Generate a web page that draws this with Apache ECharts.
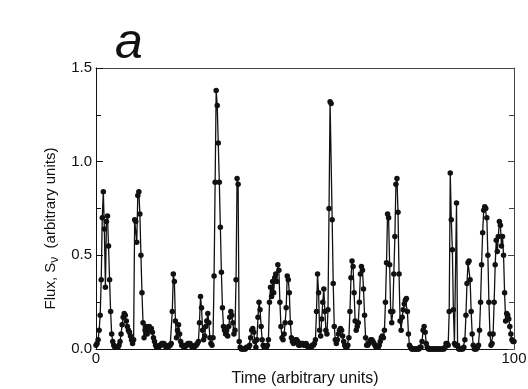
<!DOCTYPE html>
<html>
<head>
<meta charset="utf-8">
<script src="https://cdn.jsdelivr.net/npm/echarts@6/dist/echarts.min.js"></script>
<style>
  html, body { margin: 0; background: #fff; }
  #chart { width: 528px; height: 389px; }
</style>
</head>
<body>
<div id="chart"></div>
<script>
  // sampling step of the light curve, in time units
  const dt = 0.25

  // flux, one value every dt from t = 0 to t = 100
  const flux = [
    0.02, 0.03, 0.05, 0.10, 0.18, 0.37, 0.70, 0.84, 0.64, 0.33, 0.68, 0.71, 0.55, 0.37, 0.20, 0.08, 0.04, 0.02, 0.01, 0.01,
    0.01, 0.01, 0.02, 0.04, 0.08, 0.13, 0.17, 0.19, 0.18, 0.15, 0.12, 0.10, 0.09, 0.07, 0.05, 0.03, 0.05, 0.69, 0.68, 0.57,
    0.82, 0.84, 0.72, 0.50, 0.30, 0.14, 0.06, 0.10, 0.12, 0.08, 0.11, 0.12, 0.10, 0.11, 0.09, 0.06, 0.04, 0.02, 0.01, 0.01,
    0.01, 0.02, 0.02, 0.03, 0.03, 0.03, 0.02, 0.01, 0.01, 0.01, 0.02, 0.02, 0.03, 0.20, 0.40, 0.36, 0.15, 0.06, 0.10, 0.13,
    0.08, 0.04, 0.02, 0.02, 0.01, 0.01, 0.02, 0.02, 0.03, 0.03, 0.03, 0.02, 0.01, 0.01, 0.01, 0.02, 0.02, 0.03, 0.04, 0.14,
    0.28, 0.22, 0.10, 0.05, 0.07, 0.12, 0.15, 0.19, 0.14, 0.06, 0.03, 0.02, 0.06, 0.39, 0.89, 1.38, 1.30, 1.10, 0.89, 0.65,
    0.41, 0.22, 0.12, 0.10, 0.08, 0.10, 0.07, 0.12, 0.17, 0.20, 0.18, 0.14, 0.08, 0.10, 0.37, 0.91, 0.88, 0.04, 0.01, 0.00,
    0.00, 0.00, 0.00, 0.00, 0.01, 0.01, 0.01, 0.02, 0.06, 0.10, 0.11, 0.09, 0.04, 0.01, 0.05, 0.17, 0.25, 0.21, 0.12, 0.05,
    0.02, 0.01, 0.01, 0.01, 0.02, 0.05, 0.25, 0.33, 0.28, 0.36, 0.30, 0.38, 0.40, 0.36, 0.45, 0.42, 0.25, 0.12, 0.06, 0.05,
    0.08, 0.14, 0.22, 0.39, 0.37, 0.30, 0.14, 0.06, 0.04, 0.03, 0.04, 0.05, 0.05, 0.04, 0.02, 0.02, 0.03, 0.03, 0.03, 0.02,
    0.02, 0.03, 0.02, 0.01, 0.01, 0.01, 0.01, 0.02, 0.02, 0.03, 0.05, 0.20, 0.40, 0.30, 0.10, 0.07, 0.16, 0.25, 0.32, 0.20,
    0.10, 0.08, 0.21, 0.75, 1.32, 1.31, 0.69, 0.35, 0.12, 0.05, 0.03, 0.05, 0.08, 0.10, 0.11, 0.10, 0.07, 0.04, 0.02, 0.01,
    0.01, 0.02, 0.06, 0.20, 0.38, 0.47, 0.44, 0.30, 0.15, 0.10, 0.12, 0.14, 0.25, 0.40, 0.44, 0.42, 0.32, 0.18, 0.06, 0.02,
    0.02, 0.03, 0.04, 0.05, 0.05, 0.04, 0.03, 0.02, 0.01, 0.01, 0.01, 0.02, 0.04, 0.06, 0.07, 0.06, 0.10, 0.25, 0.46, 0.72,
    0.70, 0.45, 0.20, 0.14, 0.20, 0.40, 0.60, 0.88, 0.91, 0.73, 0.40, 0.15, 0.10, 0.17, 0.21, 0.24, 0.26, 0.27, 0.20, 0.08,
    0.02, 0.01, 0.00, 0.00, 0.00, 0.00, 0.00, 0.00, 0.00, 0.00, 0.01, 0.01, 0.04, 0.10, 0.12, 0.09, 0.03, 0.01, 0.00, 0.00,
    0.00, 0.00, 0.00, 0.00, 0.00, 0.00, 0.00, 0.00, 0.00, 0.00, 0.00, 0.00, 0.00, 0.00, 0.01, 0.03, 0.03, 0.02, 0.20, 0.94,
    0.69, 0.53, 0.21, 0.03, 0.02, 0.78, 0.02, 0.00, 0.00, 0.00, 0.00, 0.00, 0.01, 0.05, 0.18, 0.35, 0.46, 0.47, 0.37, 0.20,
    0.08, 0.02, 0.00, 0.00, 0.00, 0.01, 0.02, 0.10, 0.25, 0.45, 0.62, 0.74, 0.76, 0.75, 0.70, 0.50, 0.25, 0.08, 0.02, 0.03,
    0.08, 0.25, 0.45, 0.58, 0.52, 0.60, 0.68, 0.66, 0.55, 0.60, 0.50, 0.30, 0.15, 0.19, 0.18, 0.16, 0.12, 0.08, 0.05, 0.04,
    0.04
  ]

  const yTicks = [0, 0.5, 1.0, 1.5]
  const xTickLabels = [0, 100]

  const font = '"Liberation Sans", Arial, sans-serif'
  const ink = '#111'

  const chart = echarts.init(document.getElementById('chart'))

  const points = flux.map((v, i) => [i * dt, v])

  chart.setOption({
    animation: false,
    title: {
      text: 'a',
      left: 110,
      top: 14,
      textStyle: { fontFamily: font, fontStyle: 'italic', fontWeight: 'normal', fontSize: 50, color: ink },
    },
    grid: { left: 96, right: 14, top: 68, bottom: 40, outerBoundsMode: 'none' },
    xAxis: [
      {
        type: 'value',
        min: 0,
        max: 100,
        interval: 10,
        name: 'Time (arbitrary units)',
        nameLocation: 'middle',
        nameGap: 18,
        nameTextStyle: { fontFamily: font, fontSize: 16, color: ink },
        axisLine: { onZero: false, lineStyle: { color: ink, width: 1 } },
        axisTick: { show: false },
        splitLine: { show: false },
        axisLabel: {
          fontFamily: font,
          fontSize: 15,
          color: ink,
          margin: 2,
          formatter: (v) => (xTickLabels.includes(v) ? String(v) : ''),
        },
      },
      {
        type: 'value',
        position: 'top',
        min: 0,
        max: 100,
        axisLine: { show: true, onZero: false, lineStyle: { color: '#444', width: 1 } },
        axisTick: { show: false },
        axisLabel: { show: false },
        splitLine: { show: false },
      },
    ],
    yAxis: [
      {
        type: 'value',
        min: 0,
        max: 1.5,
        interval: 0.5,
        name: 'Flux, S{sub|ν}  (arbitrary units)',
        nameLocation: 'middle',
        nameGap: 34,
        nameTextStyle: {
          fontFamily: font,
          fontSize: 15,
          color: ink,
          padding: [0, 40, 0, 0],
          rich: { sub: { fontFamily: font, fontSize: 12, color: ink, verticalAlign: 'bottom', padding: [7, 0, 0, 0] } },
        },
        axisLine: { onZero: false, lineStyle: { color: ink, width: 1 } },
        axisTick: { inside: true, length: 7, lineStyle: { color: ink } },
        minorTick: { show: true, splitNumber: 2, length: 5, lineStyle: { color: ink } },
        splitLine: { show: false },
        axisLabel: {
          fontFamily: font,
          fontSize: 15,
          color: ink,
          margin: 4,
          formatter: (v) => (yTicks.includes(v) ? v.toFixed(1) : ''),
        },
      },
      {
        type: 'value',
        position: 'right',
        min: 0,
        max: 1.5,
        interval: 0.5,
        axisLine: { show: true, onZero: false, lineStyle: { color: '#444', width: 1 } },
        axisTick: { show: true, inside: true, length: 6, lineStyle: { color: '#444' } },
        minorTick: { show: true, splitNumber: 2, length: 5, lineStyle: { color: '#444' } },
        axisLabel: { show: false },
        splitLine: { show: false },
      },
    ],
    series: [
      {
        type: 'line',
        data: points,
        xAxisIndex: 0,
        yAxisIndex: 0,
        symbol: 'circle',
        symbolSize: 5.5,
        showAllSymbol: true,
        clip: true,
        lineStyle: { color: ink, width: 1.3 },
        itemStyle: { color: ink, borderWidth: 0 },
      },
    ],
  })
</script>
</body>
</html>
